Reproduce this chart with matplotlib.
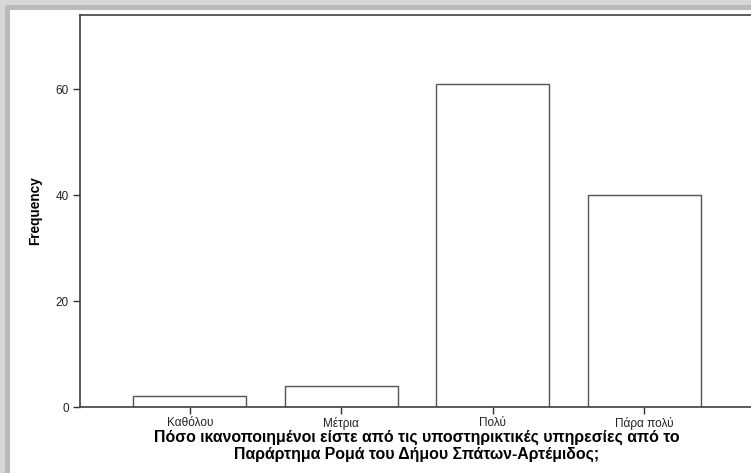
import numpy as np
import matplotlib.pyplot as plt
from matplotlib.patches import Rectangle

# ================================= Dados =================================
categorias = ['Καθόλου', 'Μέτρια', 'Πολύ', 'Πάρα πολύ']
frequencias = [2, 4, 61, 40]
yticks = [0, 20, 40, 60]
titulo_x = ('Πόσο ικανοποιημένοι είστε από τις υποστηρικτικές υπηρεσίες από το\n'
            'Παράρτημα Ρομά του Δήμου Σπάτων-Αρτέμιδος;')

plt.rcParams['font.family'] = ['Liberation Sans', 'DejaVu Sans']

W, H = 751, 473
fig = plt.figure(figsize=(W / 100, H / 100), dpi=100)

# moldura cinza (sombra do screenshot) em cima e a esquerda
fig.patches.append(Rectangle((0, 1 - 10 / H), 1, 10 / H, transform=fig.transFigure,
                             facecolor='#d7d7d7', edgecolor='none', zorder=0))
fig.patches.append(Rectangle((0, 1 - 10 / H), 1, 5 / H, transform=fig.transFigure,
                             facecolor='#bababa', edgecolor='none', zorder=0))
fig.patches.append(Rectangle((0, 0), 10 / W, 1, transform=fig.transFigure,
                             facecolor='#d7d7d7', edgecolor='none', zorder=0))
fig.patches.append(Rectangle((5 / W, 0), 5 / W, 1 - 5 / H, transform=fig.transFigure,
                             facecolor='#bababa', edgecolor='none', zorder=0))

# eixo (o lado direito fica cortado, como no original)
esq, dir_, base, topo = 80, 754, 407, 15
ax = fig.add_axes([esq / W, (H - base) / H, (dir_ - esq) / W, (base - topo) / H])

x = np.arange(len(categorias))
ax.bar(x, frequencias, width=0.745, color='white', edgecolor='#555555', linewidth=1.0)

ax.set_xlim(-0.725, 3.725)
ax.set_ylim(0, 74)
ax.set_xticks(x)
ax.set_xticklabels(categorias, fontsize=8.5, color='#222222')
ax.set_yticks(yticks)
ax.set_yticklabels([str(v) for v in yticks], fontsize=8.5, color='#222222')
ax.tick_params(direction='out', length=5, width=1, color='#333333', pad=3)
ax.tick_params(axis='x', pad=2)

for lado in ['left', 'bottom', 'top', 'right']:
    ax.spines[lado].set_color('#404040')
    ax.spines[lado].set_linewidth(1.2)

ax.set_ylabel('Frequency', fontsize=9.8, fontweight='bold', labelpad=10)

# titulo do eixo x em duas linhas, abaixo dos rotulos
fig.text(417 / W, 1 - 430 / H, titulo_x, ha='center', va='top', fontsize=11.4,
         fontweight='bold', linespacing=1.12)

fig.savefig('out.png', dpi=100)
